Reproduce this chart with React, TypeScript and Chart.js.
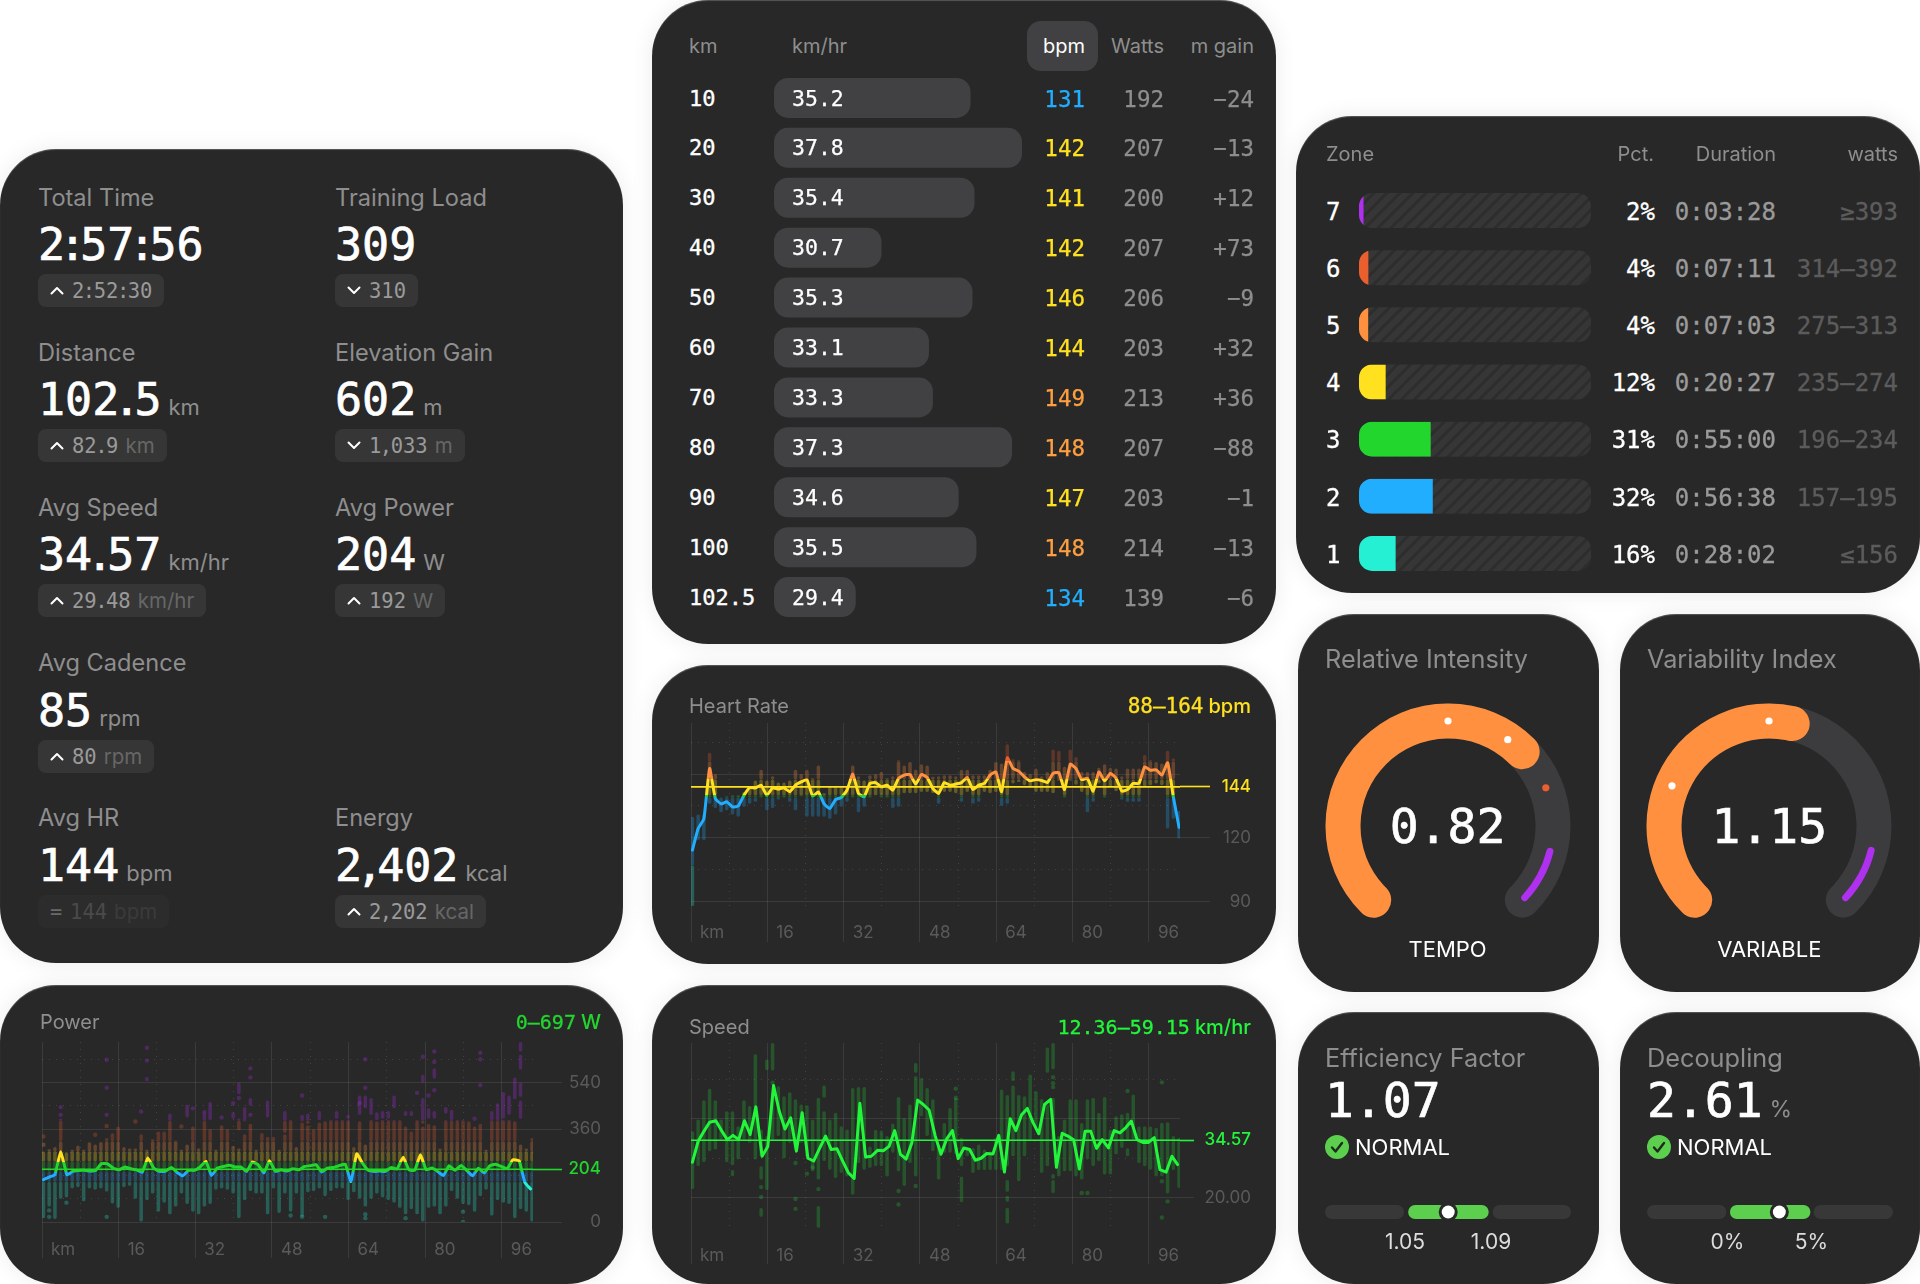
import React, { useEffect, useRef } from "react";
import { Chart, registerables } from "chart.js";
Chart.register(...registerables);
Chart.defaults.font.family = "Inter";
Chart.defaults.devicePixelRatio = 1;

const SANS = "Inter";
const MONO = "'DejaVu Sans Mono'";
const TEAL = "#26F0D4", BLUE = "#22AEFF", GREEN = "#22D62E", YELLOW = "#FFE120", ORANGE = "#FF9040", RED = "#EA5F2D", PURPLE = "#B030F0", LIME = "#22F63A";

// ---------- data ----------
const barKm = [0.3,1.5,2.7,3.9,5.1,6.3,7.5,8.7,9.9,11.1,12.3,13.5,14.7,15.9,17.1,18.3,19.5,20.7,21.9,23.1,24.3,25.5,26.7,27.9,29.1,30.3,31.5,32.7,33.9,35.1,36.3,37.5,38.7,39.9,41.1,42.3,43.5,44.7,45.9,47.1,48.3,49.5,50.7,51.9,53.1,54.3,55.5,56.7,57.9,59.1,60.3,61.5,62.7,63.9,65.1,66.3,67.5,68.7,69.9,71.1,72.3,73.5,74.7,75.9,77.1,78.3,79.5,80.7,81.9,83.1,84.3,85.5,86.7,87.9,89.1,90.3,91.5,92.7,93.9,95.1,96.3,97.5,98.7,99.9,101.1,102.3];
const hrLineKm = barKm;
const lineKm = [0.3,1.5,2.7,3.9,5.2,6.4,7.6,8.8,10,11.2,12.4,13.6,14.9,16.1,17.3,18.5,19.7,20.9,22.1,23.3,24.5,25.7,27,28.2,29.4,30.6,31.8,33,34.2,35.4,36.6,37.8,39.1,40.3,41.5,42.7,43.9,45.1,46.3,47.5,48.7,49.9,51.2,52.4,53.6,54.8,56,57.2,58.4,59.6,60.8,62,63.3,64.5,65.7,66.9,68.1,69.3,70.5,71.7,72.9,74.1,75.4,76.6,77.8,79,80.2,81.4,82.6,83.8,85,86.2,87.5,88.7,89.9,91.1,92.3,93.5,94.7,95.9,97.1,98.3,99.6,100.8,102];
const kmTicks = [0,8,16,24,32,40,48,56,64,72,80,88,96];
const kmLabels = ["km","","16","","32","","48","","64","","80","","96"];

const powerLine = [164,174,183,273,183,196,199,200,197,199,226,226,208,202,213,206,202,192,248,209,196,196,211,192,179,200,200,213,235,180,209,215,220,213,213,196,232,222,190,237,196,202,197,206,202,215,218,222,193,209,211,218,224,157,264,228,200,196,197,196,211,205,251,202,200,260,202,209,196,180,218,200,219,199,179,208,190,218,224,215,206,241,237,153,128];
const powerHigh = [273,282,290,400,270,280,296,280,309,300,310,325,344,370,290,285,285,340,280,320,350,350,420,315,280,300,370,285,420,360,280,375,360,295,285,340,380,280,345,330,330,280,340,395,290,385,375,360,385,390,395,395,395,395,290,390,300,395,390,395,395,395,395,370,350,395,370,380,375,285,395,395,395,395,390,370,380,280,395,395,395,395,390,300,285,325];
const powerLow = [15,60,12,90,95,130,135,80,130,125,130,118,72,55,135,140,90,0,85,110,40,75,30,60,110,70,40,30,60,70,125,130,125,110,15,85,120,110,110,30,130,35,110,40,110,20,115,120,130,100,120,130,130,85,115,90,60,90,110,95,85,75,55,30,50,30,0,55,60,30,60,120,90,70,65,40,100,125,25,85,75,70,15,50,40,0];
const powerExtras = [[18,545,562],[25,405,455],[29,395,465],[33,400,425],[34,495,540],[34,355,400],[35,390,445],[36,450,480],[39,405,470],[42,345,430],[45,390,415],[46,380,420],[48,395,430],[51,400,430],[53,400,415],[55,415,490],[56,440,490],[57,415,480],[58,395,425],[59,400,430],[60,400,430],[61,440,490],[63,410,430],[64,410,430],[66,380,480],[66,540,570],[67,400,440],[68,555,595],[68,400,430],[70,420,445],[71,395,435],[78,395,430],[79,395,460],[80,400,490],[81,415,490],[82,475,560],[83,660,697],[83,590,648],[83,485,540],[83,400,470]];
const powerDots = [[0,331],[0,299],[1,20],[1,45],[3,445],[3,415],[4,75],[9,338],[11,628],[11,520],[11,415],[11,372],[11,20],[16,389],[17,428],[18,675],[18,625],[24,370],[26,440],[28,425],[31,405],[33,460],[34,480],[36,595],[36,560],[36,415],[43,25],[45,490],[45,20],[49,20],[55,460],[56,630],[56,520],[56,30],[56,15],[63,15],[65,500],[66,640],[67,490],[68,660],[68,620],[68,510],[73,40],[73,0],[75,400],[76,655],[76,630],[76,530],[80,495]];

const hrLine = [114.3,124.4,129,152.6,138.5,136,137,134.6,135,140,143.7,143.5,144.8,140,143.5,143,143.5,141.7,144.8,146.3,147.4,139.6,141.6,136,133.8,138,139,142.4,150,140.9,139.3,145.6,146,144,144.8,142.4,148,149.5,149.8,145.3,149.8,148.4,143.2,140.9,146,144.8,145.3,146,148.4,142.7,144.8,145.6,149.5,151,141.7,157.6,152.6,151.4,148.7,146.8,147.4,147,146,150.3,150.7,142.7,154.6,152.6,147.4,148,142,151,146.8,150.3,148,142,142.7,145.6,145.6,153.4,151.8,152,149.5,155.3,139.3,125];
const hrHigh = [130,131,131,160,150,139,139.6,140,140,141.6,144,147,152,147,149,146,146,147,152,150,152,148,154,141,144,144,144,144,154,149,147,149.5,150,151,148,149,156.5,154,155.7,152,154.6,154,148.7,149,149.5,149.5,149,152,152,149.5,149.5,149.5,152,155.7,155,164,157,156.5,151,150,152.6,149,151,161.5,161,153.4,161.5,158,151,151,151,153,154.6,153,152.6,149,152.6,152.6,152.6,159,156.5,155.7,155,161,157.3,132.7];
const hrLow = [88,119,119,136,134,132,133,131,130,134.6,136,137,139,133,134,138,139,137,133,139.6,130,130,130,130,129,131,134.6,137,139,132,134.6,139,140,139,139,134,134.6,141,141,141,141.6,141.6,141,136,141.6,141.6,141,137,141.6,136,137,141.6,141,141.6,135,136,145.6,146.3,144.8,144,141.6,141.6,141.6,141,147,139,147,145,141.6,132,137,145.6,139,144,142,138,137,137,137,144.3,144.8,145.6,144.8,124.4,129,119.7];

const speedLine = [29,34.3,36.8,39.1,39.5,37,34.7,35.8,34.7,39.5,36,43,30.5,33,48.4,41.9,37.4,40.2,31.8,41.5,30,29.3,32.6,35.6,32.2,32.4,29.3,26.3,24.9,43.9,30.3,30.5,32,31.9,33,37,31,29.8,33.9,44.7,43.6,42.2,35.6,31,34.9,37,29.9,32.6,32.2,29.5,30,31.2,31.1,35.8,26.5,40,37,41,42.6,39,36.2,43.6,44.9,27.7,36.3,35.6,34.7,27.3,36.8,36.8,32.5,34.7,32.6,37,36.4,37.7,39.4,34.7,34,34,35.2,27.1,26.5,30.5,28.4];
const speedHigh = [36.8,39.8,44.7,47.6,44.7,39.8,41.9,41.9,38.1,44.7,43.2,56.3,37.3,35.6,46.6,48.2,45.7,46.7,44.9,43.6,43.4,39.8,45.3,41.9,39.8,41.5,38.1,37.3,47.8,48,48,33,37.2,37,35.6,38.8,45.5,40.2,43.6,50.8,50.3,47.8,44.9,33.5,38.9,42.7,45.3,35.2,32.6,32.6,33.5,32.2,31.8,35.2,47.4,46,48.4,46,45.7,51.2,47,45,43.6,45.3,35.6,39.8,44.9,44.9,38.9,44.9,45.3,41.5,45.5,37.2,40.6,41.1,41.5,46.1,38,38.1,38,37.7,39,39.1,35.6,35.2];
const speedLow = [22.2,28,29,31.8,32.2,34.7,29,28.2,29.7,34.7,33.9,29.7,30.5,22,34.7,35.6,30,33.9,32.2,33.9,30.5,26.7,24.6,29.3,27.1,25,26.3,25.4,20.8,28.8,27.1,27.6,28,28,25.4,31.4,26.7,23,28.8,25.4,40.6,35.6,31.8,24.6,31.4,31.4,31,28,30.5,26.3,27,27,27,27,27,28,30.5,24.2,30.5,34.7,37.7,26.3,28,34.7,25.4,26.7,26.7,25.4,24.6,29.7,28,29.3,25.9,25.9,31,32.6,34.7,34.7,28.8,28,27.1,25.4,25.4,21.1,27,22.5];
const speedExtras = [[7,25.5,27],[12,24.6,28],[12,15.2,17.4],[13,52.3,55],[14,52.2,59.15],[22,12.4,17.9],[23,45.3,48.4],[39,51.6,54.1],[47,18.9,25.4],[55,21.5,24.5],[55,19,20.5],[55,13.5,17.5],[56,49.5,52],[62,51.6,58],[63,52.5,59.15],[63,21.2,24.5],[63,24.8,26],[76,30.5,32.5]];
const speedDots = [[12,22.7],[12,20.2],[14,49.1],[18,28.8],[18,19.7],[18,17.2],[20,26.1],[21,27.7],[22,22.2],[36,21.7],[36,18.3],[39,23],[46,47.6],[46,45.3],[63,50.5],[63,49],[63,48],[68,21.2],[69,21.2],[76,47],[82,49.2],[82,24.2],[82,15],[83,19.1]];

const powerZones = [[156,TEAL],[195,BLUE],[234,GREEN],[274,YELLOW],[313,ORANGE],[392,RED],[9999,PURPLE]];
const hrZones = [[107,TEAL],[139,BLUE],[140,GREEN],[147.5,YELLOW],[156,ORANGE],[9999,RED]];
const speedZones = [[9999,LIME]];

const splitKm = ["10","20","30","40","50","60","70","80","90","100","102.5"];
const splitSpeed = [35.2,37.8,35.4,30.7,35.3,33.1,33.3,37.3,34.6,35.5,29.4];
const splitBpm = [131,142,141,142,146,144,149,148,147,148,134];
const splitWatts = [192,207,200,207,206,203,213,207,203,214,139];
const splitGain = ["−24","−13","+12","+73","−9","+32","+36","−88","−1","−13","−6"];

const zoneNames = ["7","6","5","4","3","2","1"];
const zoneShare = [1.95,4.04,3.96,11.5,30.9,31.8,15.8];
const zonePct = ["2%","4%","4%","12%","31%","32%","16%"];
const zoneTime = ["0:03:28","0:07:11","0:07:03","0:20:27","0:55:00","0:56:38","0:28:02"];
const zoneWatts = ["≥393","314–392","275–313","235–274","196–234","157–195","≤156"];
const zoneColors = [PURPLE,RED,ORANGE,YELLOW,GREEN,BLUE,TEAL];

const statTitles = ["Total Time","Training Load","Distance","Elevation Gain","Avg Speed","Avg Power","Avg Cadence","Avg HR","Energy"];
const statValues = ["2:57:56","309","102.5","602","34.57","204","85","144","2,402"];
const statUnits = ["","","km","m","km/hr","W","rpm","bpm","kcal"];
const statPrev = ["2:52:30","310","82.9","1,033","29.48","192","80","144","2,202"];
const statDir = ["up","down","up","down","up","up","up","same","up"];
const statCol = [0,1,0,1,0,1,0,0,1];
const statRow = [0,0,1,1,2,2,3,4,4];

// ---------- helpers ----------
const alpha = (hex: string, a: number) => hex + Math.round(a * 255).toString(16).padStart(2, "0");

function ChartCanvas({ x, y, w, h, make }: any) {
  const ref = useRef<HTMLCanvasElement>(null);
  useEffect(() => {
    const c = new Chart(ref.current!, make());
    return () => c.destroy();
  }, []);
  return <canvas ref={ref} width={w} height={h} style={{ position: "absolute", left: x, top: y, width: w, height: h }} />;
}

function T({ x, y, a = "l", s, children }: any) {
  const st: any = { position: "absolute", top: y, whiteSpace: "nowrap", lineHeight: 1, transform: "translateY(-50%)" };
  if (a === "r") st.right = 1920 - x;
  else st.left = x;
  if (a === "c") st.transform = "translate(-50%,-50%)";
  return <div style={{ ...st, ...s }}>{children}</div>;
}

function Card({ x, y, w, h }: any) {
  return <div style={{ position: "absolute", left: x, top: y, width: w, height: h, borderRadius: 56, background: "#282828", boxShadow: "0 0 22px rgba(0,0,0,.08), inset 0 1px 1px rgba(255,255,255,.22)" }} />;
}

const zoneOf = (zones: any[], v: number) => zones.find((z) => v <= z[0])[1];

function seriesConfig(o: any) {
  const segs = o.low.map((l: number, i: number) => [i, l, o.high[i]]).concat(o.extras);
  let prev = -Infinity;
  const barSets = o.zones.map((z: any) => {
    const lo = prev, hi = z[0];
    prev = hi;
    const data = segs
      .filter((s: number[]) => s[2] > lo && s[1] <= hi)
      .map((s: number[]) => ({ x: barKm[s[0]], y: [Math.max(s[1], lo), Math.min(s[2], hi)] }));
    return { type: "bar", data, backgroundColor: alpha(z[1], o.barAlpha), grouped: false, barThickness: 3.5, borderRadius: 1.6, borderSkipped: false, inflateAmount: 0, order: 4 };
  });
  const dots = { type: "scatter", data: o.dots.map((d: number[]) => ({ x: barKm[d[0]], y: d[1] })), pointRadius: 2.2, pointBorderWidth: 0, pointBackgroundColor: (c: any) => alpha(zoneOf(o.zones, c.raw ? c.raw.y : 0), o.barAlpha), order: 3 };
  const avg = { type: "line", data: [{ x: 0, y: o.avg }, { x: o.xMax, y: o.avg }], borderColor: o.avgColor, borderWidth: 1.6, pointRadius: 0, order: 2 };
  const line = {
    type: "line", data: o.lineVals.map((v: number, i: number) => ({ x: o.lineKm[i], y: v })), borderWidth: 3, pointRadius: 0, tension: o.tension, borderJoinStyle: "round", borderCapStyle: "round", order: 1,
    borderColor: (c: any) => {
      const { chart } = c;
      if (!chart.chartArea) return o.avgColor;
      const ys = chart.scales.y;
      const top = ys.getPixelForValue(o.yMax), bot = ys.getPixelForValue(o.yMin);
      const g = chart.ctx.createLinearGradient(0, bot, 0, top);
      let p = 0;
      o.zones.forEach((z: any) => {
        const n = Math.min(1, (bot - ys.getPixelForValue(Math.min(z[0], o.yMax))) / (bot - top));
        g.addColorStop(p, z[1]);
        g.addColorStop(n, z[1]);
        p = n;
      });
      return g;
    },
  };
  return {
    type: "bar",
    data: { datasets: [...barSets, dots, avg, line] },
    options: {
      animation: false, responsive: false, events: [],
      layout: { padding: { left: o.L, top: o.T, right: o.R, bottom: 0 } },
      plugins: { legend: { display: false }, tooltip: { enabled: false } },
      scales: {
        x: {
          type: "linear", min: 0, max: o.xMax, offset: false,
          afterBuildTicks: (s: any) => { s.ticks = kmTicks.map((v) => ({ value: v })); },
          afterFit: (s: any) => { s.height = o.axisH; },
          border: { display: false, dash: (c: any) => (c.tick && c.tick.value % 16 ? [1, 6] : []) },
          grid: { offset: false, color: (c: any) => (c.tick && c.tick.value % 16 ? "rgba(255,255,255,.13)" : "rgba(255,255,255,.09)"), tickColor: (c: any) => (c.tick && c.tick.value % 16 ? "transparent" : "rgba(255,255,255,.09)"), tickLength: 36, lineWidth: 1 },
          ticks: { autoSkip: false, maxRotation: 0, align: "start", labelOffset: 9, padding: o.labelPad, color: "#5a5a5a", font: { size: 17 }, callback: (v: number) => kmLabels[kmTicks.indexOf(v)] ?? "" },
        },
        y: {
          position: "right", min: o.yMin, max: o.yMax,
          afterBuildTicks: (s: any) => { s.ticks = o.yTicks.map((v: number) => ({ value: v })); },
          afterFit: (s: any) => { s.width = o.axisW; },
          border: { display: false, dash: (c: any) => (c.tick && o.yDotted.includes(c.tick.value) ? [1, 6] : []) },
          grid: {
            color: (c: any) => (c.tick && o.yDotted.includes(c.tick.value) ? "rgba(255,255,255,.13)" : "rgba(255,255,255,.09)"),
            tickColor: (c: any) => (!c.tick ? "transparent" : c.tick.value === o.avg ? o.avgColor : o.yDotted.includes(c.tick.value) || !o.yLabels[c.tick.value] ? "transparent" : "rgba(255,255,255,.09)"),
            tickWidth: (c: any) => (c.tick && c.tick.value === o.avg ? 1.6 : 1),
            tickLength: o.tickY,
          },
          ticks: { autoSkip: false, crossAlign: "far", padding: 0, font: (c: any) => ({ size: 17, weight: c.tick && c.tick.value === o.avg ? "500" : "400" }), color: (c: any) => (c.tick && c.tick.value === o.avg ? o.avgColor : "#5a5a5a"), callback: (v: number) => o.yLabels[v] ?? "" },
        },
      },
    },
  };
}

function makeTrackPattern() {
  const c = document.createElement("canvas");
  c.width = 13; c.height = 13;
  const g = c.getContext("2d")!;
  g.fillStyle = "#363636"; g.fillRect(0, 0, 13, 13);
  g.strokeStyle = "#2d2d2d"; g.lineWidth = 3;
  [[-6.5, 6.5, 6.5, -6.5], [0, 13, 13, 0], [6.5, 19.5, 19.5, 6.5]].forEach(([a, b, d, e]) => { g.beginPath(); g.moveTo(a, b); g.lineTo(d, e); g.stroke(); });
  return g.createPattern(c, "repeat");
}

const zoneClip = {
  id: "zoneClip",
  beforeDatasetDraw(chart: any, args: any) {
    if (args.index !== 1) return;
    const g = chart.ctx;
    g.save();
    g.beginPath();
    chart.getDatasetMeta(0).data.forEach((b: any) => g.roundRect(b.base, b.y - b.height / 2, b.x - b.base, b.height, 13));
    g.clip();
  },
  afterDatasetDraw(chart: any, args: any) { if (args.index === 1) chart.ctx.restore(); },
};

const hiddenAxis = { display: false };
const basePlain = { animation: false, responsive: false, events: [], layout: { padding: 0 }, plugins: { legend: { display: false }, tooltip: { enabled: false } } };

const zoneConfig = () => ({
  type: "bar", plugins: [zoneClip],
  data: { labels: zoneNames, datasets: [
    { data: zoneNames.map(() => 100), backgroundColor: makeTrackPattern(), borderRadius: 13, borderSkipped: false, grouped: false, barThickness: 35, inflateAmount: 0, order: 2 },
    { data: zoneShare, backgroundColor: zoneColors, grouped: false, barThickness: 35, inflateAmount: 0, order: 1 },
  ] },
  options: { ...basePlain, indexAxis: "y", scales: { x: { ...hiddenAxis, min: 0, max: 100 }, y: hiddenAxis } },
});

const SPLIT_MIN = 25.27;
const splitConfig = () => ({
  type: "bar",
  data: { labels: splitKm, datasets: [{ data: splitSpeed.map((v) => [SPLIT_MIN, v]), backgroundColor: "#414143", borderRadius: 14, borderSkipped: false, barThickness: 40, inflateAmount: 0 }] },
  options: { ...basePlain, indexAxis: "y", scales: { x: { ...hiddenAxis, min: SPLIT_MIN, max: 37.8 }, y: hiddenAxis } },
});

const GAUGE = 260, R = 122.5, CAP = 9.5;
function ringConfig(data: number[], colors: string[], rotation: number, radius: number, cutout: string, corner: number, plugins: any[] = []) {
  return { type: "doughnut", plugins, data: { datasets: [{ data, backgroundColor: colors, borderWidth: 0, borderRadius: corner }] }, options: { ...basePlain, rotation, radius, cutout, maintainAspectRatio: false } };
}

function Gauge({ cx, cy, min, max, value, dots, hi }: any) {
  const deg = (v: number) => ((v - min) / (max - min)) * 270;
  const seg = deg(value) + 2 * CAP;
  const dotPlugin = {
    id: "gaugeDots",
    afterDraw(chart: any) {
      const el = chart.getDatasetMeta(0).data[0], g = chart.ctx;
      dots.forEach((d: number) => {
        const a = ((-135 + deg(d) - 90) * Math.PI) / 180;
        g.beginPath();
        g.arc(el.x + 105 * Math.cos(a), el.y + 105 * Math.sin(a), 3.6, 0, Math.PI * 2);
        g.fillStyle = d <= value ? "#fff" : RED;
        g.fill();
      });
    },
  };
  const box = { x: cx - GAUGE / 2, y: cy - GAUGE / 2, w: GAUGE, h: GAUGE };
  return (
    <>
      <ChartCanvas {...box} make={() => ringConfig([270 + 2 * CAP, 90 - 2 * CAP], ["#3c3c3e", "rgba(0,0,0,0)"], -135 - CAP, R, "71.43%", 17.5)} />
      <ChartCanvas {...box} make={() => ringConfig([seg, 360 - seg], [ORANGE, "rgba(0,0,0,0)"], -135 - CAP, R, "71.43%", 17.5)} />
      <ChartCanvas {...box} make={() => ringConfig([deg(hi), 270 - deg(hi), 90], ["rgba(0,0,0,0)", PURPLE, "rgba(0,0,0,0)"], -135, 108.5, "93.55%", 3.5, [dotPlugin])} />
    </>
  );
}

function RangeBar({ x, y, w, min, max, segs, marker }: any) {
  const plug = {
    id: "marker",
    afterDatasetsDraw(chart: any) {
      const px = chart.scales.x.getPixelForValue(marker), py = chart.height / 2, g = chart.ctx;
      g.beginPath(); g.arc(px, py, 9.5, 0, Math.PI * 2); g.fillStyle = "#282828"; g.fill();
      g.beginPath(); g.arc(px, py, 6.5, 0, Math.PI * 2); g.fillStyle = "#fff"; g.fill();
    },
  };
  return (
    <ChartCanvas x={x} y={y - 12} w={w} h={24} make={() => ({
      type: "bar", plugins: [plug],
      data: { labels: ["range"], datasets: segs.map((s: number[], i: number) => ({ data: [s], backgroundColor: i === 1 ? "#5CD04E" : "#383838", borderRadius: 7, borderSkipped: false, grouped: false, barThickness: 14, inflateAmount: 0 })) },
      options: { ...basePlain, indexAxis: "y", scales: { x: { ...hiddenAxis, min, max }, y: hiddenAxis } },
    })} />
  );
}

function Chevron({ dir }: any) {
  if (dir === "same") return <span style={{ color: "#fff", fontFamily: MONO, fontSize: 20 }}>=</span>;
  return (
    <svg width="14" height="9" viewBox="0 0 14 9" style={{ display: "block" }}>
      <path d={dir === "up" ? "M1.5 7.5 L7 2 L12.5 7.5" : "M1.5 1.5 L7 7 L12.5 1.5"} fill="none" stroke="#fff" strokeWidth="2" strokeLinecap="round" strokeLinejoin="round" />
    </svg>
  );
}

// punctuation in the reference's numerals is set narrower than the digits
const Narrow = ({ text, m }: any) => <>{text.split(/([:.,])/).map((p: string, i: number) => (i % 2 ? <span key={i} style={{ margin: `0 ${m}px` }}>{p}</span> : <React.Fragment key={i}>{p}</React.Fragment>))}</>;

function Stat({ i }: any) {
  const x = statCol[i] ? 335 : 38;
  const y0 = 197.5 + statRow[i] * 155.2;
  const same = statDir[i] === "same";
  return (
    <>
      <T x={x} y={y0} s={{ fontFamily: SANS, fontSize: 23.6, color: "#8e8e8e" }}>{statTitles[i]}</T>
      <T x={x} y={y0 + 46.5} s={{ color: "#fff", fontFamily: MONO, fontSize: 45, WebkitTextStroke: "0.7px #fff" }}>
        <Narrow text={statValues[i]} m={-6} />
        {statUnits[i] && <span style={{ fontFamily: SANS, fontSize: 22, color: "#8e8e8e", marginLeft: 7, WebkitTextStroke: "0" }}>{statUnits[i]}</span>}
      </T>
      <div style={{ position: "absolute", left: x, top: y0 + 76.5, height: 33, borderRadius: 8, background: "#363636", display: "flex", alignItems: "center", gap: 8, padding: "0 12px", whiteSpace: "nowrap", opacity: same ? 0.3 : 1 }}>
        <Chevron dir={statDir[i]} />
        <span style={{ fontFamily: MONO, fontSize: 20.5, color: "#9a9a9a" }}>
          <Narrow text={statPrev[i]} m={-1.5} />
          {statUnits[i] && <span style={{ fontFamily: SANS, color: "#666", marginLeft: 7 }}>{statUnits[i]}</span>}
        </span>
      </div>
    </>
  );
}

const Check = ({ x, y }: any) => (
  <svg width="24" height="24" viewBox="0 0 24 24" style={{ position: "absolute", left: x, top: y - 12 }}>
    <circle cx="12" cy="12" r="12" fill="#5CD04E" />
    <path d="M7 12.5 L10.5 16.5 L17 8" fill="none" stroke="#1f2a1d" strokeWidth="2.4" strokeLinecap="round" strokeLinejoin="round" />
  </svg>
);

const bpmColor = (b: number) => (b <= 139 ? BLUE : b <= 147 ? YELLOW : "#FF9F40");
const headS = { fontFamily: SANS, fontSize: 20, color: "#8e8e8e" };
const cardTitle = { fontFamily: SANS, fontSize: 20, color: "#8e8e8e" };
const bigTitle = { fontFamily: SANS, fontSize: 25.3, color: "#8e8e8e" };
const monoS = (size: number, color: string, stroke = 0) => ({ fontFamily: MONO, fontSize: size, color, WebkitTextStroke: stroke ? `${stroke}px ${color}` : undefined });
const statusS = { fontFamily: SANS, fontSize: 22, color: "#fff" };
const rangeS = { fontFamily: SANS, fontSize: 21, color: "#ddd" };

export default function App() {
  return (
    <div style={{ position: "absolute", left: 0, top: 0, width: 1920, height: 1284, overflow: "hidden", background: "#fff" }}>
      {/* stats */}
      <Card x={0} y={149} w={623} h={814} />
      {statTitles.map((_, i) => <Stat key={i} i={i} />)}

      {/* power */}
      <Card x={0} y={985} w={623} h={299} />
      <ChartCanvas x={0} y={985} w={623} h={299} make={() => seriesConfig({ low: powerLow, high: powerHigh, extras: powerExtras, dots: powerDots, zones: powerZones, barAlpha: 0.28, lineKm, lineVals: powerLine, tension: 0.12, avg: 204, avgColor: GREEN, xMax: 102.5, yMin: 0, yMax: 697, L: 42, T: 57, R: 22, axisW: 68, axisH: 62, tickY: 29, labelPad: -18, yTicks: [0,90,180,204,270,360,450,540,630], yDotted: [90,180,270,450,630], yLabels: { 0: "0", 204: "204", 360: "360", 540: "540" } })} />
      <T x={40} y={1022} s={cardTitle}>Power</T>
      <T x={601} y={1022} a="r" s={{ color: GREEN, fontFamily: SANS, fontSize: 20, fontWeight: 500 }}><span style={{ fontFamily: MONO, WebkitTextStroke: `0.3px ${GREEN}` }}>0–697</span><span style={{ marginLeft: 5 }}>W</span></T>

      {/* splits */}
      <Card x={652} y={0} w={624} h={644} />
      <div style={{ position: "absolute", left: 1027, top: 21, width: 71, height: 50, borderRadius: 14, background: "#414143" }} />
      <T x={689} y={46} s={headS}>km</T>
      <T x={792} y={46} s={headS}>km/hr</T>
      <T x={1085} y={46} a="r" s={{ ...headS, color: "#fff" }}>bpm</T>
      <T x={1164} y={46} a="r" s={headS}>Watts</T>
      <T x={1254} y={46} a="r" s={headS}>m gain</T>
      <ChartCanvas x={774} y={73} w={248} h={549} make={splitConfig} />
      {splitKm.map((k, i) => {
        const y = 98.5 + i * 49.9;
        return (
          <React.Fragment key={k}>
            <T x={689} y={y} s={monoS(22, "#fff", 0.35)}>{k}</T>
            <T x={792} y={y} s={monoS(21.5, "#fff", 0.25)}>{splitSpeed[i].toFixed(1)}</T>
            <T x={1085} y={y} a="r" s={monoS(22.5, bpmColor(splitBpm[i]), 0.25)}>{splitBpm[i]}</T>
            <T x={1164} y={y} a="r" s={monoS(22.5, "#8e8e8e", 0.25)}>{splitWatts[i]}</T>
            <T x={1254} y={y} a="r" s={monoS(22.5, "#8e8e8e", 0.25)}>{splitGain[i]}</T>
          </React.Fragment>
        );
      })}

      {/* heart rate */}
      <Card x={652} y={665} w={624} h={299} />
      <ChartCanvas x={652} y={665} w={624} h={299} make={() => seriesConfig({ low: hrLow, high: hrHigh, extras: [], dots: [], zones: hrZones, barAlpha: 0.28, lineKm: hrLineKm, lineVals: hrLine, tension: 0.15, avg: 144, avgColor: YELLOW, xMax: 102.5, yMin: 88, yMax: 174, L: 39, T: 58, R: 25, axisW: 71, axisH: 58, tickY: 30, labelPad: -19, yTicks: [90,105,120,135,144,150,165], yDotted: [105,135,165], yLabels: { 90: "90", 120: "120", 144: "144", 150: "" } })} />
      <T x={689} y={706} s={cardTitle}>Heart Rate</T>
      <T x={1251} y={706} a="r" s={{ color: YELLOW, fontFamily: SANS, fontSize: 20, fontWeight: 500 }}><span style={{ fontFamily: MONO, fontSize: 21, WebkitTextStroke: `0.3px ${YELLOW}` }}>88–164</span><span style={{ marginLeft: 5 }}>bpm</span></T>

      {/* speed */}
      <Card x={652} y={985} w={624} h={299} />
      <ChartCanvas x={652} y={985} w={624} h={299} make={() => seriesConfig({ low: speedLow, high: speedHigh, extras: speedExtras, dots: speedDots, zones: speedZones, barAlpha: 0.22, lineKm, lineVals: speedLine, tension: 0, avg: 34.57, avgColor: LIME, xMax: 102.5, yMin: 12.36, yMax: 59.15, L: 39, T: 58, R: 25, axisW: 71, axisH: 56, tickY: 14, labelPad: -18, yTicks: [20,30,34.57,40,50], yDotted: [30,50], yLabels: { 20: "20.00", 34.57: "34.57", 40: "" } })} />
      <T x={689} y={1027} s={cardTitle}>Speed</T>
      <T x={1251} y={1027} a="r" s={{ color: LIME, fontFamily: SANS, fontSize: 20, fontWeight: 500 }}><span style={{ fontFamily: MONO, WebkitTextStroke: `0.3px ${LIME}` }}>12.36–59.15</span><span style={{ marginLeft: 5 }}>km/hr</span></T>

      {/* zones */}
      <Card x={1296} y={116} w={624} h={477} />
      <T x={1326} y={154} s={headS}>Zone</T>
      <T x={1654} y={154} a="r" s={headS}>Pct.</T>
      <T x={1776} y={154} a="r" s={headS}>Duration</T>
      <T x={1898} y={154} a="r" s={headS}>watts</T>
      <ChartCanvas x={1359} y={182} w={232} h={400} make={zoneConfig} />
      {zoneNames.map((n, i) => {
        const y = 211.5 + i * 57.2;
        return (
          <React.Fragment key={n}>
            <T x={1326} y={y} s={monoS(24, "#fff", 0.3)}>{n}</T>
            <T x={1655} y={y} a="r" s={monoS(24, "#fff", 0.3)}>{zonePct[i]}</T>
            <T x={1776} y={y} a="r" s={monoS(24, "#9a9a9a", 0.3)}>{zoneTime[i]}</T>
            <T x={1898} y={y} a="r" s={monoS(24, "#5c5c5c", 0.3)}>{zoneWatts[i]}</T>
          </React.Fragment>
        );
      })}

      {/* gauges */}
      <Card x={1298} y={614} w={301} h={378} />
      <T x={1325} y={659} s={bigTitle}>Relative Intensity</T>
      <Gauge cx={1447.6} cy={825.5} min={0} max={1.23} value={0.82} dots={[0.615, 0.773, 0.928]} hi={1.08} />
      <T x={1447.6} y={826} a="c" s={monoS(48, "#fff", 0.7)}>0.82</T>
      <T x={1447.6} y={949} a="c" s={statusS}>TEMPO</T>

      <Card x={1620} y={614} w={300} h={378} />
      <T x={1647} y={659} s={bigTitle}>Variability Index</T>
      <Gauge cx={1769.3} cy={825.5} min={1} max={1.274} value={1.15} dots={[1.0685, 1.137]} hi={1.24} />
      <T x={1769.3} y={826} a="c" s={monoS(48, "#fff", 0.7)}>1.15</T>
      <T x={1769.3} y={949} a="c" s={statusS}>VARIABLE</T>

      {/* range cards */}
      <Card x={1298} y={1012} w={301} h={272} />
      <T x={1325} y={1058} s={bigTitle}>Efficiency Factor</T>
      <T x={1325} y={1100} s={monoS(48, "#fff", 0.7)}>1.07</T>
      <Check x={1325} y={1147} />
      <T x={1355} y={1147} s={statusS}>NORMAL</T>
      <RangeBar x={1325} y={1212} w={246} min={1.0128} max={1.127} segs={[[1.0128, 1.0495], [1.0514, 1.0888], [1.0906, 1.127]]} marker={1.07} />
      <T x={1405} y={1241} a="c" s={rangeS}>1.05</T>
      <T x={1491} y={1241} a="c" s={rangeS}>1.09</T>

      <Card x={1620} y={1012} w={300} h={272} />
      <T x={1647} y={1058} s={bigTitle}>Decoupling</T>
      <T x={1647} y={1100} s={monoS(48, "#fff", 0.7)}>2.61<span style={{ fontFamily: SANS, fontSize: 23, color: "#8e8e8e", marginLeft: 7, WebkitTextStroke: "0" }}>%</span></T>
      <Check x={1647} y={1147} />
      <T x={1677} y={1147} s={statusS}>NORMAL</T>
      <RangeBar x={1646.6} y={1212} w={246} min={-5.15} max={10.13} segs={[[-5.15, -0.22], [0, 5], [5.2, 10.13]]} marker={3.07} />
      <T x={1727.5} y={1241} a="c" s={rangeS}>0%</T>
      <T x={1811.5} y={1241} a="c" s={rangeS}>5%</T>
    </div>
  );
}
